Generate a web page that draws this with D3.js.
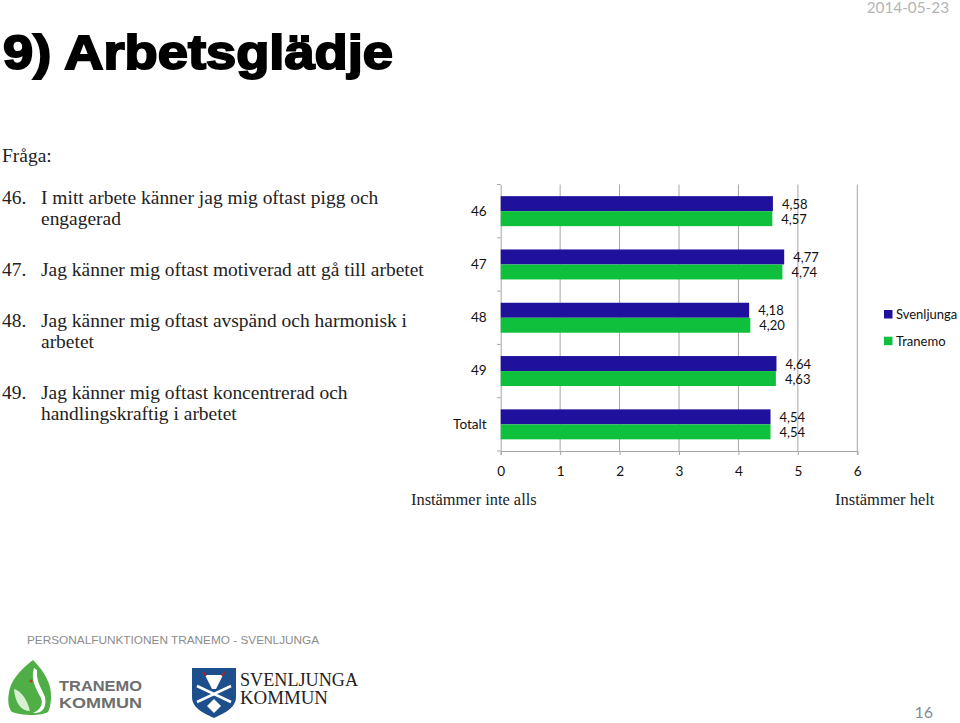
<!DOCTYPE html>
<html><head><meta charset="utf-8">
<script src="https://cdn.jsdelivr.net/npm/d3@7"></script>
<style>html,body{margin:0;padding:0;background:#fff}svg{display:block}
.s{font-family:"Liberation Serif",serif;font-size:18.5px;fill:#222}
.c{font-family:Lato,sans-serif;font-size:13px;fill:#111}
</style></head><body><svg id="v" width="960" height="723"></svg>
<script>
const categories = ["46","47","48","49","Totalt"];
const seriesNames = ["Svenljunga","Tranemo"];
const svenljunga = [4.58,4.77,4.18,4.64,4.54];
const tranemo = [4.57,4.74,4.20,4.63,4.54];
const xTicks = [0,1,2,3,4,5,6];
const colors = ["#1f119c","#0fc03c"];
const questionLines = [
 ["Fråga:",2,162],
 ["46.",2,204],["I mitt arbete känner jag mig oftast pigg och",41,204],["engagerad",41,225],
 ["47.",2,276],["Jag känner mig oftast motiverad att gå till arbetet",41,276],
 ["48.",2,327],["Jag känner mig oftast avspänd och harmonisk i",41,327],["arbetet",41,348],
 ["49.",2,399],["Jag känner mig oftast koncentrerad och",41,399],["handlingskraftig i arbetet",41,420]];

const svg = d3.select("#v");
const fmt = v => v.toFixed(2).replace(".",",");
svg.append("text").attr("x",3).attr("y",69).attr("font-family","Liberation Sans").attr("font-weight",700)
 .attr("font-size",49).attr("fill","#000").attr("stroke","#000").attr("stroke-width",2)
 .attr("textLength",390).attr("lengthAdjust","spacingAndGlyphs").text("9) Arbetsglädje");
svg.append("text").attr("x",949).attr("y",13).attr("text-anchor","end").attr("font-family","Lato")
 .attr("font-size",15.3).attr("fill","#b4b4b4").text("2014-05-23");
svg.selectAll("text.q").data(questionLines).join("text").attr("class","s q")
 .attr("transform",d=>`translate(${d[1]},${d[2]}) scale(1.053,1)`).text(d=>d[0]);

const x = d3.scaleLinear().domain([0,6]).range([500.7,857.3]);
const y = d3.scaleBand().domain(categories).range([184.5,451]);
const sub = d3.scaleBand().domain(seriesNames).range([0,y.bandwidth()]).paddingInner(0).paddingOuter(0.777);
const g = svg.append("g");
// gridlines
g.selectAll("line.g").data(xTicks.slice(1)).join("line").attr("x1",d=>x(d)).attr("x2",d=>x(d))
 .attr("y1",184.5).attr("y2",451).attr("stroke","#a6a6a6").attr("stroke-width",1);
// y axis
const yAxis = d3.axisLeft(y).tickSize(0).tickPadding(14);
const ya = g.append("g").attr("transform","translate(500.7,0)").call(yAxis);
ya.select(".domain").attr("stroke","#a6a6a6");
ya.selectAll("text").attr("font-family","Lato").attr("font-size",13.6).attr("fill","#111");
g.selectAll("line.yt").data(d3.range(6)).join("line").attr("x1",497).attr("x2",500.7)
 .attr("y1",i=>184.5+i*y.step()).attr("y2",i=>184.5+i*y.step()).attr("stroke","#a6a6a6");
// x axis
const xAxis = d3.axisBottom(x).tickValues(xTicks).tickSize(4).tickPadding(11).tickFormat(d3.format("d"));
const xa = g.append("g").attr("transform","translate(0,451)").call(xAxis);
xa.selectAll("line,path").attr("stroke","#a6a6a6");
xa.selectAll("text").attr("font-family","Lato").attr("font-size",13.6).attr("fill","#111");
// bars
[svenljunga,tranemo].forEach((vals,si)=>{
 const name = seriesNames[si];
 g.selectAll("rect.b"+si).data(vals).join("rect").attr("x",x(0))
  .attr("y",(d,i)=>y(categories[i])+sub(name)).attr("width",d=>x(d)-x(0))
  .attr("height",sub.bandwidth()).attr("fill",colors[si]);
 g.selectAll("text.l"+si).data(vals).join("text").attr("class","c")
  .attr("x",d=>x(d)+9).attr("y",(d,i)=>y(categories[i])+sub(name)+sub.bandwidth()/2+5).text(fmt);
});
// legend
seriesNames.forEach((n,i)=>{
 svg.append("rect").attr("x",884).attr("y",310+i*26.7).attr("width",8.5).attr("height",8.5).attr("fill",colors[i]);
 svg.append("text").attr("class","c").attr("x",896).attr("y",319+i*26.7).text(n);
});
svg.append("text").attr("class","s").attr("x",411).attr("y",505).style("font-size","16.4px").text("Instämmer inte alls");
svg.append("text").attr("class","s").attr("x",835).attr("y",505).style("font-size","16.5px").text("Instämmer helt");
// footer
svg.append("text").attr("x",27).attr("y",644).attr("font-family","Liberation Sans").attr("font-size",11.8).attr("fill","#8c8c8c")
 .text("PERSONALFUNKTIONEN TRANEMO - SVENLJUNGA");
svg.append("text").attr("x",933).attr("y",718).attr("text-anchor","end").attr("font-family","Lato").attr("font-size",16).attr("fill","#7f8c9a").text("16");
// logos
const l1 = svg.append("g");
l1.append("path").attr("d","M33 660 C24 667 13 677 10 688 C7 699 8 708 12 712 C22 716 42 716 48 712 C51 706 52 696 50 687 C47 676 40 667 33 660Z").attr("fill","#4fae46");
l1.append("path").attr("d","M34 668 C30 680 37 690 41 698 C44 706 38 711 33 713 C42 714 47 708 45 697 C42 689 36 682 37 670Z").attr("fill","#fff");
l1.append("path").attr("d","M14 689 C21 691 27 699 30 711 C21 711 15 703 14 689Z").attr("fill","#d8efd2");
l1.append("circle").attr("cx",31).attr("cy",681).attr("r",1.6).attr("fill","#c0392b");
svg.append("text").attr("x",59).attr("y",691).attr("font-family","Liberation Sans").attr("font-weight",700).attr("font-size",15).attr("fill","#6e6e6e").attr("textLength",83).attr("lengthAdjust","spacingAndGlyphs").text("TRANEMO");
svg.append("text").attr("x",59).attr("y",708).attr("font-family","Liberation Sans").attr("font-weight",700).attr("font-size",15).attr("fill","#6e6e6e").attr("textLength",83).attr("lengthAdjust","spacingAndGlyphs").text("KOMMUN");
const l2 = svg.append("g");
l2.append("path").attr("d","M192 668 H236 V697 C236 709 222 714 214 718 C206 714 192 709 192 697Z").attr("fill","#1d4f8c");
l2.append("path").attr("d","M205 675 L223 675 L216 689 L212 689Z").attr("fill","#fff");
l2.append("path").attr("d","M203 672 L206 676 M225 672 L222 676").attr("stroke","#a5262b").attr("stroke-width",2);
l2.append("path").attr("d","M197 702 L231 686 M197 686 L231 702").attr("stroke","#fff").attr("stroke-width",2.5);
l2.append("path").attr("d","M214 699 L221 706 L214 713 L207 706Z").attr("fill","#fff");
svg.append("text").attr("x",240).attr("y",686).attr("font-family","Liberation Serif").attr("font-size",18).attr("fill","#222").attr("textLength",118).attr("lengthAdjust","spacingAndGlyphs").text("SVENLJUNGA");
svg.append("text").attr("x",240).attr("y",704).attr("font-family","Liberation Serif").attr("font-size",18).attr("fill","#222").attr("textLength",88).attr("lengthAdjust","spacingAndGlyphs").text("KOMMUN");
</script></body></html>
